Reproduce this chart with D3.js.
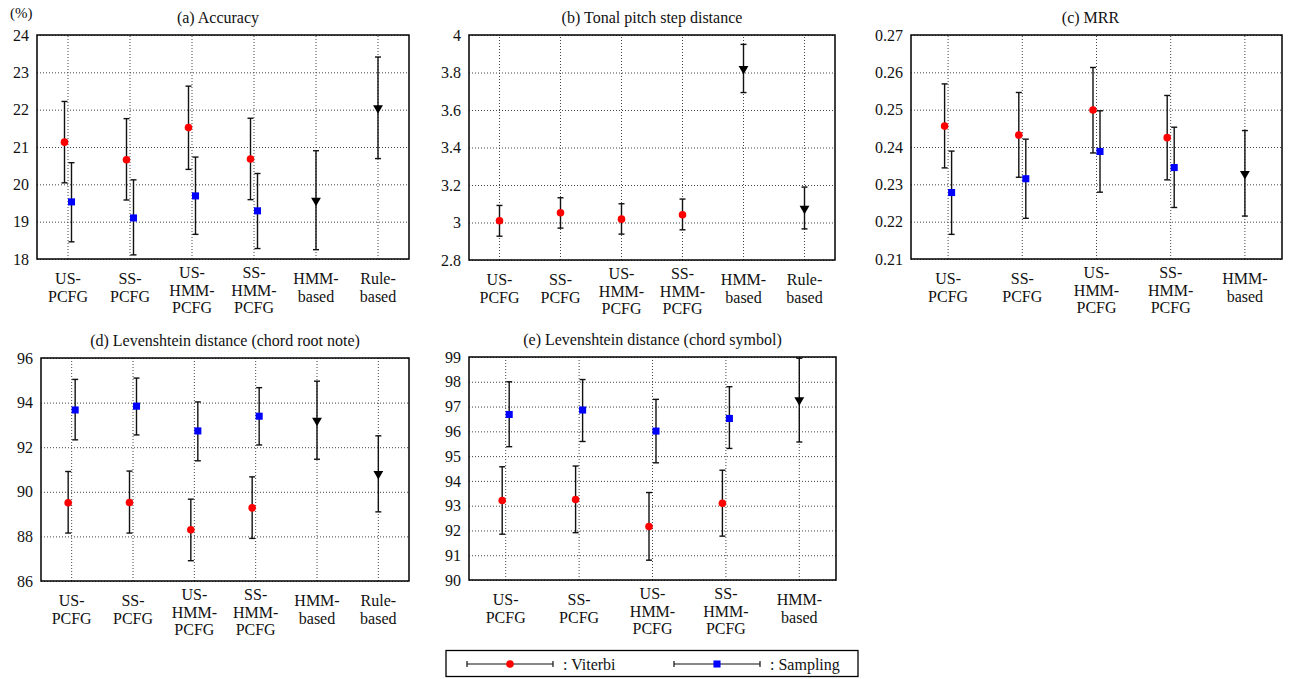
<!DOCTYPE html>
<html><head><meta charset="utf-8">
<script src="https://cdn.jsdelivr.net/npm/d3@7"></script>
<style>
html,body{margin:0;padding:0;background:#fff;}
svg{display:block;}
</style></head>
<body>
<svg id="chart" width="1289" height="679"></svg>
<script>
// ---------- DATA ----------
const methods6 = ["US-PCFG","SS-PCFG","US-HMM-PCFG","SS-HMM-PCFG","HMM-based","Rule-based"];
const methods5 = ["US-PCFG","SS-PCFG","US-HMM-PCFG","SS-HMM-PCFG","HMM-based"];
const methodLabelLines = {
  "US-PCFG":["US-","PCFG"], "SS-PCFG":["SS-","PCFG"],
  "US-HMM-PCFG":["US-","HMM-","PCFG"], "SS-HMM-PCFG":["SS-","HMM-","PCFG"],
  "HMM-based":["HMM-","based"], "Rule-based":["Rule-","based"]
};
// each entry: [mean, lower, upper]
const accViterbi  = [[21.13,20.04,22.22],[20.66,19.58,21.76],[21.52,20.40,22.63],[20.68,19.59,21.77],null,null];
const accSampling = [[19.53,18.46,20.58],[19.10,18.11,20.12],[19.69,18.66,20.73],[19.29,18.28,20.29],null,null];
const accBaseline = [null,null,null,null,[19.59,18.25,20.90],[22.07,20.69,23.41]];

const tpsdViterbi  = [[3.009,2.927,3.091],[3.052,2.970,3.132],[3.018,2.938,3.100],[3.041,2.961,3.125],null,null];
const tpsdBaseline = [null,null,null,null,[3.825,3.693,3.950],[3.080,2.966,3.189]];

const mrrViterbi  = [[0.2456,0.2344,0.2569],[0.2432,0.2319,0.2546],[0.2499,0.2384,0.2613],[0.2425,0.2312,0.2538],null];
const mrrSampling = [[0.2278,0.2166,0.2389],[0.2315,0.2209,0.2421],[0.2388,0.2279,0.2497],[0.2345,0.2238,0.2453],null];
const mrrBaseline = [null,null,null,null,[0.2331,0.2215,0.2444]];

const ldRootViterbi  = [[89.51,88.15,90.91],[89.52,88.15,90.93],[88.30,86.91,89.67],[89.28,87.91,90.67],null,null];
const ldRootSampling = [[93.67,92.33,95.04],[93.84,92.55,95.10],[92.73,91.39,94.03],[93.39,92.10,94.67],null,null];
const ldRootBaseline = [null,null,null,null,[93.24,91.46,94.96],[90.85,89.10,92.51]];

const ldSymViterbi  = [[93.21,91.85,94.57],[93.25,91.91,94.60],[92.16,90.80,93.53],[93.10,91.77,94.43],null];
const ldSymSampling = [[96.68,95.38,98.00],[96.86,95.59,98.09],[96.01,94.73,97.29],[96.52,95.31,97.80],null];
const ldSymBaseline = [null,null,null,null,[97.30,95.57,98.95]];

const accTicks    = [18,19,20,21,22,23,24];
const tpsdTicks   = [2.8,3,3.2,3.4,3.6,3.8,4];
const mrrTicks    = [0.21,0.22,0.23,0.24,0.25,0.26,0.27];
const ldRootTicks = [86,88,90,92,94,96];
const ldSymTicks  = [90,91,92,93,94,95,96,97,98,99];

const titles = ["(a) Accuracy","(b) Tonal pitch step distance","(c) MRR",
  "(d) Levenshtein distance (chord root note)","(e) Levenshtein distance (chord symbol)"];
const legendLabels = [": Viterbi", ": Sampling"];

// ---------- LAYOUT ----------
const FONT = '"Liberation Serif", "Times New Roman", serif';
const panels = [
  {title:titles[0], cats:methods6, ticks:accTicks, v:accViterbi, s:accSampling, b:accBaseline, x0:37, x1:409, y0:35, y1:259, tdx:-5},
  {title:titles[1], cats:methods6, ticks:tpsdTicks, v:tpsdViterbi, s:null, b:tpsdBaseline, x0:469, x1:835, y0:35, y1:260, tdx:0},
  {title:titles[2], cats:methods5, ticks:mrrTicks, v:mrrViterbi, s:mrrSampling, b:mrrBaseline, x0:911, x1:1282, y0:35, y1:259, tdx:-6},
  {title:titles[3], cats:methods6, ticks:ldRootTicks, v:ldRootViterbi, s:ldRootSampling, b:ldRootBaseline, x0:41, x1:409, y0:358, y1:581, tdx:0},
  {title:titles[4], cats:methods5, ticks:ldSymTicks, v:ldSymViterbi, s:ldSymSampling, b:ldSymBaseline, x0:469, x1:836, y0:357, y1:580, tdx:0}
];

const svg = d3.select("#chart").style("font-family", FONT);
const RED = "#ff0000", BLUE = "#0000ff";

function txt(sel){ return sel.style("font-family", FONT).attr("fill","#111"); }

txt(svg.append("text").attr("x",10).attr("y",18).attr("font-size",15).text("(%)"));

function drawMarker(g, type, x, y){
  if(type==="v"){
    g.append("circle").attr("cx",x).attr("cy",y).attr("r",3.8).attr("fill",RED);
  } else if(type==="s"){
    g.append("path").attr("d",d3.symbol(d3.symbolSquare,50)()).attr("transform",`translate(${x},${y})`).attr("fill",BLUE);
  } else {
    g.append("path").attr("d",d3.symbol(d3.symbolTriangle,42)()).attr("transform",`translate(${x},${y+1}) rotate(180)`).attr("fill","#000");
  }
}

panels.forEach(p=>{
  const g = svg.append("g");
  const x = d3.scaleBand().domain(p.cats).range([p.x0,p.x1]).padding(0);
  const y = d3.scaleLinear().domain([p.ticks[0], p.ticks[p.ticks.length-1]]).range([p.y1,p.y0]);
  const w = p.x1-p.x0, h = p.y1-p.y0;
  const sub = d3.scalePoint().domain(["v","s"]).range(p.s ? [-3.5,3.5] : [0,0]);

  // horizontal grid
  const gy = g.append("g").attr("transform",`translate(${p.x0},0)`)
    .call(d3.axisLeft(y).tickValues(p.ticks).tickSize(-w).tickFormat(""));
  gy.select(".domain").remove();
  gy.selectAll("line").attr("stroke","#444").attr("stroke-width",1).attr("stroke-dasharray","1,2");
  // vertical grid
  const gx = g.append("g").attr("transform",`translate(0,${p.y1})`)
    .call(d3.axisBottom(x).tickSize(-h).tickFormat(""));
  gx.select(".domain").remove();
  gx.selectAll("line").attr("stroke","#444").attr("stroke-width",1).attr("stroke-dasharray","1,2");

  // y tick labels
  const ya = g.append("g").attr("transform",`translate(${p.x0},0)`)
    .call(d3.axisLeft(y).tickValues(p.ticks).tickSize(0).tickPadding(8).tickFormat(d=>String(d)));
  ya.select(".domain").remove();
  ya.attr("font-family", null).attr("font-size", null);
  txt(ya.selectAll("text")).attr("font-size",16);

  // x category labels
  p.cats.forEach(c=>{
    const lines = methodLabelLines[c];
    const cx = x(c)+x.bandwidth()/2;
    const t = txt(g.append("text")).attr("text-anchor","middle").attr("font-size",16).attr("x", cx);
    const startY = p.y1 + (lines.length===3 ? 19 : 25);
    lines.forEach((ln,i)=>{
      t.append("tspan").attr("x", cx).attr("y", startY + i*17.5).text(ln);
    });
  });

  // frame
  g.append("rect").attr("x",p.x0).attr("y",p.y0).attr("width",w).attr("height",h)
    .attr("fill","none").attr("stroke","#000").attr("stroke-width",1.5);

  // title
  txt(g.append("text")).attr("x",(p.x0+p.x1)/2+p.tdx).attr("y",p.y0-12).attr("text-anchor","middle")
    .attr("font-size",16).text(p.title);

  // series
  const series = [["v",p.v],["s",p.s],["b",p.b]];
  series.forEach(([type,arr])=>{
    if(!arr) return;
    arr.forEach((d,i)=>{
      if(!d) return;
      const cx = x(p.cats[i]) + x.bandwidth()/2 + (type==="b" ? 0 : sub(type));
      const eg = g.append("g").attr("stroke","#111").attr("stroke-width",1.4);
      eg.append("line").attr("x1",cx).attr("x2",cx).attr("y1",y(d[1])).attr("y2",y(d[2]));
      eg.append("line").attr("x1",cx-3).attr("x2",cx+3).attr("y1",y(d[1])).attr("y2",y(d[1]));
      eg.append("line").attr("x1",cx-3).attr("x2",cx+3).attr("y1",y(d[2])).attr("y2",y(d[2]));
      drawMarker(g, type, cx, y(d[0]));
    });
  });
});

// legend
const lg = svg.append("g");
lg.append("rect").attr("x",446).attr("y",650.5).attr("width",412).attr("height",26)
  .attr("fill","#fff").attr("stroke","#000").attr("stroke-width",1.3);
const legendItems = [{type:"v", x0:467, x1:553, label:legendLabels[0], tx:563},
                     {type:"s", x0:674, x1:760, label:legendLabels[1], tx:770}];
legendItems.forEach(it=>{
  const ly = 664;
  const e = lg.append("g").attr("stroke","#111").attr("stroke-width",1.2);
  e.append("line").attr("x1",it.x0).attr("x2",it.x1).attr("y1",ly).attr("y2",ly);
  e.append("line").attr("x1",it.x0).attr("x2",it.x0).attr("y1",ly-3).attr("y2",ly+3);
  e.append("line").attr("x1",it.x1).attr("x2",it.x1).attr("y1",ly-3).attr("y2",ly+3);
  drawMarker(lg, it.type, (it.x0+it.x1)/2, ly);
  txt(lg.append("text")).attr("x",it.tx).attr("y",ly+5.5).attr("font-size",16).text(it.label);
});
</script>
</body></html>
